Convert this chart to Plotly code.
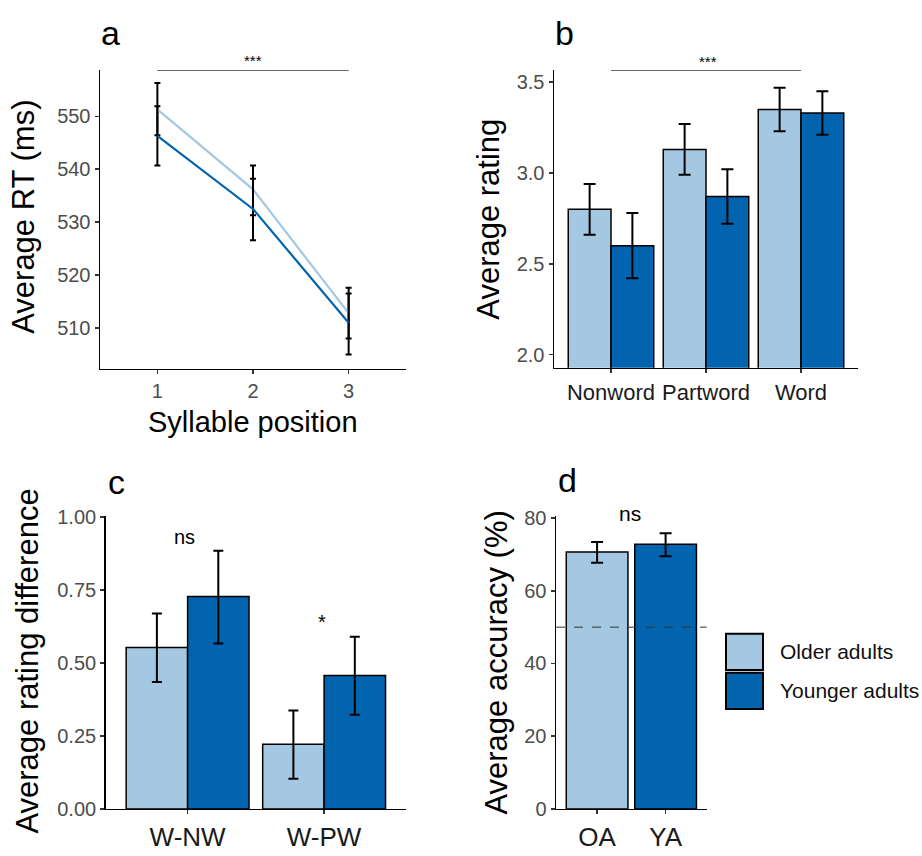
import plotly.graph_objects as go

W, H = 922, 856
FONT = "Liberation Sans, Arial, sans-serif"
LIGHT = "#a4c8e2"
DARK = "#0263ae"

groups = ["Older adults", "Younger adults"]

# Panel a: RT by syllable position
syll_pos = [1, 2, 3]
rt_old = [551.3, 536.2, 512.8]
rt_old_lo = [546.4, 531.3, 508.0]
rt_old_hi = [556.3, 540.7, 517.6]
rt_young = [546.3, 532.5, 511.0]
rt_young_lo = [540.7, 526.6, 505.0]
rt_young_hi = [551.9, 538.2, 516.5]

# Panel b: rating by item type
item_types = ["Nonword", "Partword", "Word"]
rate_old = [2.80, 3.13, 3.35]
rate_old_lo = [2.66, 2.99, 3.23]
rate_old_hi = [2.94, 3.27, 3.47]
rate_young = [2.60, 2.87, 3.33]
rate_young_lo = [2.42, 2.72, 3.21]
rate_young_hi = [2.78, 3.02, 3.45]

# Panel c: rating differences
diff_types = ["W-NW", "W-PW"]
diff_old = [0.553, 0.222]
diff_old_lo = [0.435, 0.103]
diff_old_hi = [0.670, 0.337]
diff_young = [0.728, 0.457]
diff_young_lo = [0.567, 0.323]
diff_young_hi = [0.885, 0.590]

# Panel d: accuracy
acc_groups = ["OA", "YA"]
acc = [70.7, 72.8]
acc_lo = [67.7, 69.5]
acc_hi = [73.4, 75.8]
chance = 50


def up(m, hi):
    return [h - v for v, h in zip(m, hi)]


def dn(m, lo):
    return [v - l for v, l in zip(m, lo)]


def px(x):
    return x / W


def py(y):
    return 1 - y / H


fig = go.Figure()

err_style = dict(color="black", thickness=2)

# Panel a
fig.add_trace(go.Scatter(x=syll_pos, y=rt_old, mode="lines", name=groups[0],
                         line=dict(color=LIGHT, width=2.2),
                         error_y=dict(type="data", array=up(rt_old, rt_old_hi),
                                      arrayminus=dn(rt_old, rt_old_lo), width=3, **err_style),
                         xaxis="x", yaxis="y", showlegend=False))
fig.add_trace(go.Scatter(x=syll_pos, y=rt_young, mode="lines", name=groups[1],
                         line=dict(color=DARK, width=2.2),
                         error_y=dict(type="data", array=up(rt_young, rt_young_hi),
                                      arrayminus=dn(rt_young, rt_young_lo), width=3, **err_style),
                         xaxis="x", yaxis="y", showlegend=False))

bar_line = dict(color="black", width=1.5)

# Panel b
fig.add_trace(go.Bar(x=item_types, y=rate_old, name=groups[0],
                     marker=dict(color=LIGHT, line=bar_line),
                     error_y=dict(type="data", array=up(rate_old, rate_old_hi),
                                  arrayminus=dn(rate_old, rate_old_lo), width=6, **err_style),
                     xaxis="x2", yaxis="y2", showlegend=False))
fig.add_trace(go.Bar(x=item_types, y=rate_young, name=groups[1],
                     marker=dict(color=DARK, line=bar_line),
                     error_y=dict(type="data", array=up(rate_young, rate_young_hi),
                                  arrayminus=dn(rate_young, rate_young_lo), width=6, **err_style),
                     xaxis="x2", yaxis="y2", showlegend=False))

# Panel c
fig.add_trace(go.Bar(x=diff_types, y=diff_old, name=groups[0],
                     marker=dict(color=LIGHT, line=bar_line),
                     error_y=dict(type="data", array=up(diff_old, diff_old_hi),
                                  arrayminus=dn(diff_old, diff_old_lo), width=5, **err_style),
                     xaxis="x3", yaxis="y3", showlegend=False))
fig.add_trace(go.Bar(x=diff_types, y=diff_young, name=groups[1],
                     marker=dict(color=DARK, line=bar_line),
                     error_y=dict(type="data", array=up(diff_young, diff_young_hi),
                                  arrayminus=dn(diff_young, diff_young_lo), width=5, **err_style),
                     xaxis="x3", yaxis="y3", showlegend=False))

# Panel d
fig.add_trace(go.Bar(x=acc_groups, y=acc, name="Accuracy",
                     marker=dict(color=[LIGHT, DARK], line=bar_line),
                     error_y=dict(type="data", array=up(acc, acc_hi),
                                  arrayminus=dn(acc, acc_lo), width=6, **err_style),
                     xaxis="x4", yaxis="y4", showlegend=False))

ytick_font = dict(family=FONT, size=20, color="#4d4d4d")
common = dict(showline=True, linecolor="black", linewidth=1.5, ticks="outside",
              ticklen=4, tickwidth=1.5, tickcolor="#333333", showgrid=False,
              zeroline=False, fixedrange=True)

fig.update_layout(
    width=W, height=H, margin=dict(l=0, r=0, t=0, b=0),
    paper_bgcolor="white", plot_bgcolor="white",
    barmode="group", bargap=0.1, bargroupgap=0,
    font=dict(family=FONT, color="black"),
    xaxis=dict(domain=[px(100), px(406)], anchor="y", range=[0.4, 3.6],
               tickvals=syll_pos, ticktext=[str(v) for v in syll_pos],
               tickfont=ytick_font, **common),
    yaxis=dict(domain=[py(368), py(62)], anchor="x", range=[502.26, 558.66],
               tickvals=[510, 520, 530, 540, 550], tickfont=ytick_font, **common),
    xaxis2=dict(domain=[px(554), px(858)], anchor="y2", range=[-0.6, 2.6],
                tickfont=dict(family=FONT, size=22, color="#1a1a1a"), **common),
    yaxis2=dict(domain=[py(366.7), py(62)], anchor="x2", range=[1.928, 3.5644],
                tickvals=[2.0, 2.5, 3.0, 3.5], ticktext=["2.0", "2.5", "3.0", "3.5"],
                tickfont=ytick_font, **common),
    xaxis3=dict(domain=[px(105.7), px(406)], anchor="y3", range=[-0.6, 1.6],
                tickfont=dict(family=FONT, size=26, color="#1a1a1a"), **common),
    yaxis3=dict(domain=[py(819), py(519)], anchor="x3", range=[0, 1.003],
                tickvals=[0, 0.25, 0.5, 0.75, 1.0],
                ticktext=["0.00", "0.25", "0.50", "0.75", "1.00"],
                tickfont=ytick_font, **common),
    xaxis4=dict(domain=[px(556), px(706.7)], anchor="y4", range=[-0.6, 1.6],
                tickfont=dict(family=FONT, size=26, color="#1a1a1a"), **common),
    yaxis4=dict(domain=[py(819), py(519)], anchor="x4", range=[0, 80.5],
                tickvals=[0, 20, 40, 60, 80], tickfont=ytick_font, **common),
)

shapes = [
    dict(type="line", xref="x", yref="paper", x0=syll_pos[0], x1=syll_pos[-1],
         y0=py(62), y1=py(62), line=dict(color="#666666", width=1)),
    dict(type="line", xref="x2", yref="paper", x0=item_types[0], x1=item_types[-1],
         y0=py(62), y1=py(62), line=dict(color="#666666", width=1)),
    dict(type="line", xref="x4 domain", yref="y4", x0=0, x1=1, y0=chance, y1=chance,
         line=dict(color="#333333", width=1, dash="dash"), layer="above"),
]

# Legend (manual, ggplot-style keys)
leg_colors = [LIGHT, DARK]
for i, (g, c) in enumerate(zip(groups, leg_colors)):
    y0 = 639.5 + i * 40
    shapes.append(dict(type="rect", xref="paper", yref="paper",
                       x0=px(726), x1=px(763), y0=py(y0 + 37), y1=py(y0),
                       fillcolor=c, line=dict(color="black", width=2)))
fig.update_layout(shapes=shapes)

ann = []


def text(x, y, s, size, color="black", angle=0, xanchor="center"):
    ann.append(dict(x=px(x), y=py(y), xref="paper", yref="paper", text=s,
                    showarrow=False, textangle=angle, xanchor=xanchor, yanchor="middle",
                    font=dict(family=FONT, size=size, color=color)))


text(110, 24, "a", 34)
text(564, 24, "b", 34)
text(116, 484, "c", 34)
text(567, 482, "d", 34)

text(24, 212, "Average RT (ms)", 31, angle=-90)
text(489, 215, "Average rating", 31, angle=-90)
text(28, 668, "Average rating difference", 31, angle=-90)
text(497, 669, "Average accuracy (%)", 31, angle=-90)
text(253, 422, "Syllable position", 29)

text(253, 52, "***", 15)
text(708, 53, "***", 15)
text(184, 540, "ns", 20)
text(322, 627, "*", 20)
text(630, 516, "ns", 21)

for i, g in enumerate(groups):
    text(778, 658 + i * 40, g, 21, color="#111111", xanchor="left")

fig.update_layout(annotations=ann)

fig.write_html(
    "out.html",
    config={"displayModeBar": False, "staticPlot": True},
    post_script="document.body.style.margin='0px';document.body.style.padding='0px';"
                "document.body.style.overflow='hidden';",
)
